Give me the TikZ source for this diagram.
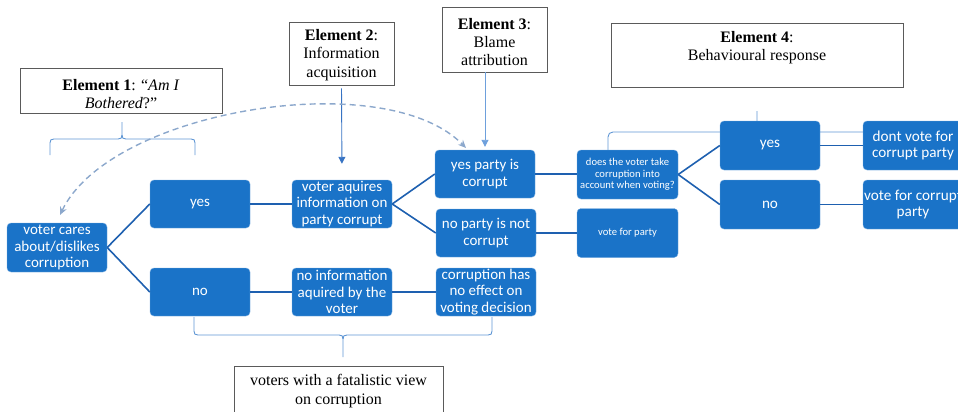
\documentclass[tikz,border=0pt]{standalone}
\usepackage{fontspec}
\setmainfont{Liberation Serif}
\newfontfamily\boxfont{Carlito}
\usetikzlibrary{arrows.meta}
\definecolor{boxblue}{RGB}{26,115,200}
\definecolor{linkblue}{RGB}{30,96,176}
\definecolor{bracel}{RGB}{95,150,212}
\definecolor{dashc}{RGB}{140,168,204}
\definecolor{elemgray}{RGB}{90,90,90}
\definecolor{arrtwo}{RGB}{55,115,195}
\definecolor{arrthree}{RGB}{110,160,220}
\begin{document}
\begin{tikzpicture}[x=1pt,y=-1pt,
  bbox/.style={fill=boxblue, draw=boxblue!60!white, line width=0.4pt, rounded corners=4pt,
    minimum width=100pt, minimum height=48pt, inner sep=0pt, text=white, align=center,
    font=\boxfont\fontsize{15}{16.2}\selectfont},
  sbox/.style={bbox, minimum width=101pt, minimum height=49pt, font=\boxfont\fontsize{10.6}{11.7}\selectfont},
  rbox/.style={bbox, minimum height=49pt, font=\boxfont\fontsize{15.2}{16.7}\selectfont},
  link/.style={draw=linkblue, line width=1.6pt},
  bracestyle/.style={draw=bracel, line width=0.9pt},
  ebox/.style={draw=elemgray, line width=0.9pt, fill=white, inner sep=0pt},
  etext/.style={align=center, font=\fontsize{16}{18.3}\selectfont, inner sep=0pt},
]
\useasboundingbox (0,0) rectangle (958,412);
\clip (0,0) rectangle (958,412);

% braces (behind boxes)
\draw[bracestyle] (50,155) -- (50,143) .. controls (50,140) and (51,139) .. (54,139) -- (118,139)
  .. controls (121,139) and (122,138) .. (122,135) -- (122,122);
\draw[bracestyle] (122,135) .. controls (122,138) and (123,139) .. (126,139) -- (191,139)
  .. controls (194,139) and (195,140) .. (195,143) -- (195,155);
\draw[bracestyle] (608,150) -- (608,137) .. controls (608,134) and (610,132) .. (613,132) -- (752,132)
  .. controls (755,132) and (757,130) .. (757,127) -- (757,111);
\draw[bracestyle] (757,127) .. controls (757,130) and (759,132) .. (762,132) -- (901,132)
  .. controls (904,132) and (906,134) .. (906,137) -- (906,150);
\draw[bracestyle] (194,317) -- (194,331) .. controls (194,334) and (195,335) .. (198,335) -- (339,335)
  .. controls (342,335) and (343,336) .. (343,339) -- (343,357);
\draw[bracestyle] (343,339) .. controls (343,336) and (344,335) .. (347,335) -- (488,335)
  .. controls (491,335) and (492,334) .. (492,331) -- (492,317);

% element boxes
\node[ebox, minimum width=202pt, minimum height=45pt] (e1box) at (121,90.5) {};
\node[etext] (e1) at (121,94) {\textbf{Element 1}: “\textit{Am I}\\\textit{Bothered}?”};
\node[ebox, minimum width=105pt, minimum height=63pt] (e2box) at (341.5,53.5) {};
\node[etext] (e2) at (341.5,55) {\textbf{Element 2}:\\Information\\acquisition};
\node[ebox, minimum width=105pt, minimum height=65pt] (e3box) at (494.5,39.5) {};
\node[etext] (e3) at (494.5,42) {\textbf{Element 3}:\\Blame\\attribution};
\node[ebox, minimum width=292pt, minimum height=64pt] (e4box) at (757,55) {};
\node[etext] (e4) at (757,48) {\textbf{Element 4}:\\Behavioural response};
\node[ebox, minimum width=209pt, minimum height=60pt] (fbox) at (338.5,396) {};
\node[etext] (fat) at (338.5,391) {voters with a fatalistic view\\on corruption};

% flow boxes
\node[bbox, minimum height=49pt] (vc) at (57,247.5) {voter cares\\about/dislikes\\corruption};
\node[bbox] (y1) at (200,204) {yes};
\node[bbox] (n1) at (200,292) {no};
\node[bbox] (via) at (342,204) {voter aquires\\information on\\party corrupt};
\node[bbox] (ni) at (342,292) {no information\\aquired by the\\voter};
\node[bbox] (yp) at (485,174) {yes party is\\corrupt};
\node[bbox] (np) at (486,233) {no party is not\\corrupt};
\node[bbox] (ce) at (486,292) {corruption has\\no effect on\\voting decision};
\node[sbox] (dv) at (627.5,174.5) {does the voter take\\corruption into\\account when voting?};
\node[sbox] (vp) at (627.5,233) {vote for party};
\node[rbox] (y2) at (770,145.5) {yes};
\node[rbox] (n2) at (770,204.5) {no};
\node[rbox] (dn) at (913,145.5) {dont vote for\\corrupt party};
\node[rbox] (vcp) at (913,204.5) {vote for corrupt\\party};

% connectors
\draw[link] (vc.east) -- (y1.west);
\draw[link] (vc.east) -- (n1.west);
\draw[link] (y1.east) -- (via.west);
\draw[link] (n1.east) -- (ni.west);
\draw[link] (ni.east) -- (ce.west);
\draw[link] (via.east) -- (yp.west);
\draw[link] (via.east) -- (np.west);
\draw[link] (yp.east) -- (dv.west |- yp.east);
\draw[link] (np.east) -- (vp.west |- np.east);
\draw[link] (dv.east) -- (y2.west);
\draw[link] (dv.east) -- (n2.west);
\draw[link] (y2.east) -- (dn.west);
\draw[link] (n2.east) -- (vcp.west);

% element arrows
\draw[draw=arrtwo, line width=0.9pt, -{Triangle[length=7pt,width=7pt]}, shorten <=3pt, shorten >=16pt] (e2box.south) -- (via.north);
\draw[draw=arrthree, line width=0.9pt, -{Triangle[length=7pt,width=7pt]}, shorten >=3pt] (e3box.south -| yp.north) -- (yp.north);

% dashed arc
\coordinate (dA) at (60,215);
\coordinate (dB) at (466,148);
\draw[draw=dashc, line width=1.4pt, dash pattern=on 6pt off 4pt,
  {Stealth[length=8pt,width=7pt]}-{Stealth[length=8pt,width=7pt]}]
  (dA) .. controls (110,110) and (385,65) .. (dB);
\end{tikzpicture}
\end{document}
